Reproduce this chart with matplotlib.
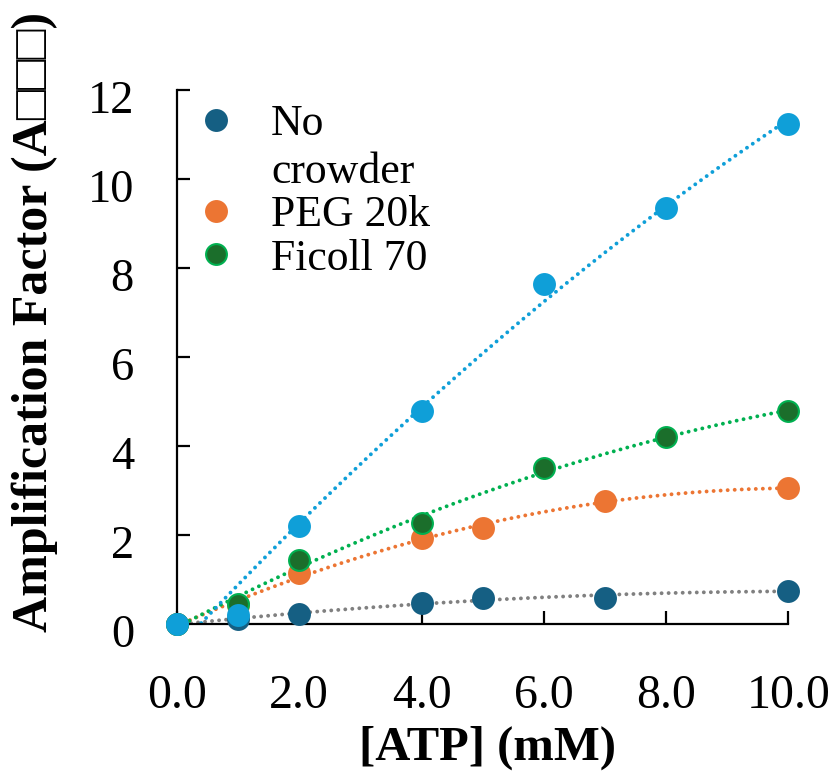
import numpy as np
import matplotlib
matplotlib.use('Agg')
import matplotlib.pyplot as plt
from matplotlib.transforms import ScaledTranslation

plt.rcParams['font.family'] = ['Liberation Serif', 'DejaVu Serif']

# [ATP] (mM) and amplification factor per condition
atp_none = [0, 1, 2, 4, 5, 7, 10]
amp_none = [0, 0.11, 0.22, 0.48, 0.58, 0.59, 0.75]

atp_peg = [0, 1, 2, 4, 5, 7, 10]
amp_peg = [0, 0.42, 1.14, 1.94, 2.16, 2.77, 3.05]

atp_ficoll = [0, 1, 2, 4, 6, 8, 10]
amp_ficoll = [0, 0.45, 1.44, 2.28, 3.5, 4.21, 4.78]

atp_blue = [0, 1, 2, 4, 6, 8, 10]
amp_blue = [0, 0.2, 2.21, 4.79, 7.64, 9.35, 11.24]

series = [
    (atp_none, amp_none, 'No\ncrowder', '#155f83', '#155f83', '#808080'),
    (atp_peg, amp_peg, 'PEG 20k', '#ec7533', '#ec7533', '#ec7533'),
    (atp_ficoll, amp_ficoll, 'Ficoll 70', '#1b6e2b', '#00b050', '#00b050'),
    (atp_blue, amp_blue, None, '#0f9fd8', '#0f9fd8', '#0f9fd8'),
]

fig = plt.figure(figsize=(8.35, 7.72), dpi=100)
ax = fig.add_axes([0.212, 0.1917, 0.732, 0.6917])

xx = np.linspace(0, 10, 200)
for i, (x, y, lab, fc, ec, lc) in enumerate(series):
    # trendline (2nd order poly)
    p = np.polyfit(x, y, 2)
    ax.plot(xx, np.polyval(p, xx), color=lc, lw=2.8, ls=(0, (0.01, 1.8)),
            dash_capstyle='round', zorder=2 + i * 0.1)
    ax.plot(x, y, 'o', ms=15, mfc=fc, mec=ec, mew=1.5, label=lab,
            clip_on=False, zorder=5 + i)

ax.set_xlim(0, 10)
ax.set_ylim(0, 12)
ax.set_xticks(np.arange(0, 11, 2))
ax.set_xticklabels(['%.1f' % v for v in np.arange(0, 11, 2)])
ax.set_yticks(np.arange(0, 13, 2))
ax.spines['top'].set_visible(False)
ax.spines['right'].set_visible(False)
for s in ['left', 'bottom']:
    ax.spines[s].set_linewidth(1.6)
ax.tick_params(direction='in', length=9.5, width=1.6)
ax.tick_params(axis='y', pad=31, labelsize=33.5)
ax.tick_params(axis='x', pad=36, labelsize=34.5)
shift = ScaledTranslation(0, -0.065, fig.dpi_scale_trans)
for lbl in ax.get_yticklabels():
    lbl.set_transform(lbl.get_transform() + shift)

ax.set_xlabel('[ATP] (mM)', fontsize=35, fontweight='bold')
ax.xaxis.set_label_coords(0.508, -0.19)
ax.set_ylabel('Amplification Factor (A\u25a1\u25a1\u25a1)', fontsize=36,
              fontweight='bold')
ax.yaxis.set_label_coords(-0.195, 0.566)

leg = ax.legend(loc='upper left', frameon=False, fontsize=31.5, handletextpad=0.75,
                labelspacing=0.08, borderaxespad=0.0, handlelength=1.0,
                bbox_to_anchor=(0.0, 1.006))
for hp in leg._legend_handle_box.get_children()[0].get_children():
    hp.align = 'top'
leg.get_texts()[0].set_linespacing(1.24)

fig.savefig('out.png', dpi=100)
